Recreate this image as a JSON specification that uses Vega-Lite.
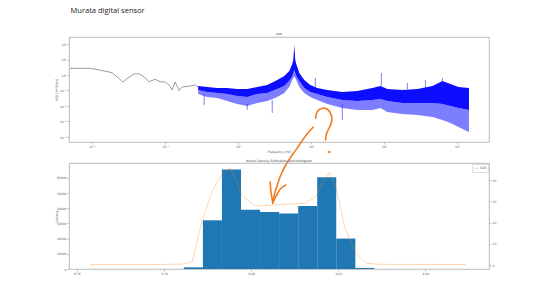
{
  "$schema": "https://vega.github.io/schema/vega-lite/v6.json",
  "background": "white",
  "padding": {"left": 53, "top": 6, "right": 5, "bottom": 5},
  "title": {"text": "Murata digital sensor", "anchor": "start", "font": "Open Sans", "fontSize": 7.5, "fontWeight": "normal", "color": "#222", "dx": 17, "offset": 17},
  "datasets": {
    "psdline": [
      {"f": 0.005, "psd": 2.706}, {"f": 0.00939, "psd": 2.706}, {"f": 0.01372, "psd": 1.951}, {"f": 0.0188, "psd": 1.407},
      {"f": 0.02662, "psd": 0.3535}, {"f": 0.03118, "psd": 0.6406}, {"f": 0.03768, "psd": 1.16}, {"f": 0.04413, "psd": 1.213},
      {"f": 0.05167, "psd": 0.743}, {"f": 0.06051, "psd": 0.3695}, {"f": 0.07312, "psd": 0.528}, {"f": 0.08565, "psd": 0.3695},
      {"f": 0.1003, "psd": 0.3535}, {"f": 0.1138, "psd": 0.2264}, {"f": 0.1252, "psd": 0.1077}, {"f": 0.1376, "psd": 0.3535},
      {"f": 0.1561, "psd": 0.1}, {"f": 0.1716, "psd": 0.1682}, {"f": 0.1948, "psd": 0.1811}, {"f": 0.221, "psd": 0.1951},
      {"f": 0.2588, "psd": 0.2264}, {"f": 0.2844, "psd": 0.1682}
    ],
    "band": [
      {"f": 0.2844, "hi": 0.195, "mid": 0.108, "lo": 0.0594},
      {"f": 0.378, "hi": 0.168, "mid": 0.08, "lo": 0.0381},
      {"f": 0.518, "hi": 0.145, "mid": 0.069, "lo": 0.0328},
      {"f": 0.711, "hi": 0.145, "mid": 0.0594, "lo": 0.021},
      {"f": 0.975, "hi": 0.125, "mid": 0.0442, "lo": 0.0135},
      {"f": 1.337, "hi": 0.125, "mid": 0.0381, "lo": 0.01},
      {"f": 1.834, "hi": 0.168, "mid": 0.0594, "lo": 0.0156},
      {"f": 2.515, "hi": 0.226, "mid": 0.069, "lo": 0.021},
      {"f": 3.449, "hi": 0.476, "mid": 0.125, "lo": 0.0381},
      {"f": 4.302, "hi": 0.862, "mid": 0.195, "lo": 0.069},
      {"f": 5.04, "hi": 1.81, "mid": 0.41, "lo": 0.168},
      {"f": 5.54, "hi": 5.13, "mid": 0.862, "lo": 0.476},
      {"f": 5.718, "hi": 9.29, "mid": 1.346, "lo": 0.641},
      {"f": 5.902, "hi": 86.1, "mid": 2.1, "lo": 0.862},
      {"f": 6.09, "hi": 9.29, "mid": 1.346, "lo": 0.641},
      {"f": 6.286, "hi": 5.13, "mid": 0.862, "lo": 0.476},
      {"f": 6.911, "hi": 1.346, "mid": 0.41, "lo": 0.168},
      {"f": 8.091, "hi": 0.476, "mid": 0.145, "lo": 0.069},
      {"f": 9.781, "hi": 0.226, "mid": 0.08, "lo": 0.0381},
      {"f": 12.2, "hi": 0.145, "mid": 0.0594, "lo": 0.0244},
      {"f": 16.73, "hi": 0.108, "mid": 0.0381, "lo": 0.0135},
      {"f": 26.88, "hi": 0.08, "mid": 0.0244, "lo": 0.00743},
      {"f": 43.17, "hi": 0.0928, "mid": 0.021, "lo": 0.00552},
      {"f": 69.32, "hi": 0.145, "mid": 0.0244, "lo": 0.00552},
      {"f": 89.26, "hi": 0.195, "mid": 0.0283, "lo": 0.00743},
      {"f": 111.3, "hi": 0.125, "mid": 0.021, "lo": 0.0041},
      {"f": 178.8, "hi": 0.108, "mid": 0.0156, "lo": 0.00305},
      {"f": 287.2, "hi": 0.125, "mid": 0.0156, "lo": 0.00263},
      {"f": 461.2, "hi": 0.195, "mid": 0.0156, "lo": 0.00195},
      {"f": 632.5, "hi": 0.41, "mid": 0.0135, "lo": 0.00125},
      {"f": 814.3, "hi": 0.263, "mid": 0.01, "lo": 0.0008},
      {"f": 1048.6, "hi": 0.168, "mid": 0.00743, "lo": 0.00044},
      {"f": 1461, "hi": 0.145, "mid": 0.00552, "lo": 0.00021}
    ],
    "spikes": [
      {"f": 0.3438, "top": 0.0594, "bottom": 0.0116},
      {"f": 1.337, "top": 0.0135, "bottom": 0.00552},
      {"f": 2.945, "top": 0.0244, "bottom": 0.00354},
      {"f": 26.88, "top": 0.0135, "bottom": 0.00125},
      {"f": 11.46, "top": 0.641, "bottom": 0.145},
      {"f": 92.1, "top": 1.346, "bottom": 0.195},
      {"f": 209.4, "top": 0.305, "bottom": 0.125},
      {"f": 369.8, "top": 0.476, "bottom": 0.125},
      {"f": 632.5, "top": 0.641, "bottom": 0.145}
    ],
    "annotation": [
      {"stroke": "shaft", "seq": 1, "f": 10.755, "psd": 4.418e-4},
      {"stroke": "shaft", "seq": 2, "f": 8.62, "psd": 1.346e-4},
      {"stroke": "shaft", "seq": 3, "f": 6.911, "psd": 3.047e-5},
      {"stroke": "shaft", "seq": 4, "f": 5.54, "psd": 6.897e-6},
      {"stroke": "shaft", "seq": 5, "f": 4.583, "psd": 1.811e-6},
      {"stroke": "shaft", "seq": 6, "f": 3.914, "psd": 4.102e-7},
      {"stroke": "shaft", "seq": 7, "f": 3.449, "psd": 8.0e-8},
      {"stroke": "shaft", "seq": 8, "f": 3.137, "psd": 1.811e-8},
      {"stroke": "shaft", "seq": 9, "f": 2.992, "psd": 5.52e-9},
      {"stroke": "left", "seq": 1, "f": 2.765, "psd": 1.25e-7},
      {"stroke": "left", "seq": 2, "f": 2.809, "psd": 3.81e-8},
      {"stroke": "left", "seq": 3, "f": 2.899, "psd": 1.346e-8},
      {"stroke": "left", "seq": 4, "f": 2.992, "psd": 5.52e-9},
      {"stroke": "right", "seq": 1, "f": 4.511, "psd": 8.0e-8},
      {"stroke": "right", "seq": 2, "f": 3.914, "psd": 5.13e-8},
      {"stroke": "right", "seq": 3, "f": 3.449, "psd": 2.1e-8},
      {"stroke": "right", "seq": 4, "f": 3.137, "psd": 8.62e-9},
      {"stroke": "right", "seq": 5, "f": 2.992, "psd": 5.52e-9},
      {"stroke": "question", "seq": 1, "f": 11.56, "psd": 1.609e-3},
      {"stroke": "question", "seq": 2, "f": 12.2, "psd": 4.288e-3},
      {"stroke": "question", "seq": 3, "f": 14.29, "psd": 7.108e-3},
      {"stroke": "question", "seq": 4, "f": 16.73, "psd": 6.125e-3},
      {"stroke": "question", "seq": 5, "f": 18.99, "psd": 2.627e-3},
      {"stroke": "question", "seq": 6, "f": 19.17, "psd": 9.707e-4},
      {"stroke": "question", "seq": 7, "f": 17.66, "psd": 3.641e-4},
      {"stroke": "question", "seq": 8, "f": 16.37, "psd": 1.733e-4},
      {"stroke": "question", "seq": 9, "f": 15.86, "psd": 6.4e-5}
    ],
    "dot": [{"f": 17.82, "psd": 1.077e-5}],
    "hist": [
      {"start": 9.78456, "end": 9.78893, "count": 1100},
      {"start": 9.78893, "end": 9.7933, "count": 32000},
      {"start": 9.7933, "end": 9.79768, "count": 65400},
      {"start": 9.79768, "end": 9.80205, "count": 39000},
      {"start": 9.80205, "end": 9.80642, "count": 37500},
      {"start": 9.80642, "end": 9.8108, "count": 36400},
      {"start": 9.8108, "end": 9.81517, "count": 41400},
      {"start": 9.81517, "end": 9.81954, "count": 60300},
      {"start": 9.81954, "end": 9.82392, "count": 20000},
      {"start": 9.82392, "end": 9.82829, "count": 700}
    ],
    "kde": [
      {"x": 9.76299, "density": 0.2}, {"x": 9.77726, "density": 0.2}, {"x": 9.78417, "density": 0.4},
      {"x": 9.78647, "density": 1.5}, {"x": 9.78877, "density": 21}, {"x": 9.79107, "density": 35},
      {"x": 9.79337, "density": 43}, {"x": 9.79521, "density": 45.8}, {"x": 9.79798, "density": 32.5},
      {"x": 9.80097, "density": 27.8}, {"x": 9.80488, "density": 28.3}, {"x": 9.80948, "density": 28.8},
      {"x": 9.81247, "density": 29.2}, {"x": 9.81478, "density": 32}, {"x": 9.81639, "density": 39},
      {"x": 9.818, "density": 43.5}, {"x": 9.81984, "density": 34}, {"x": 9.82145, "density": 18},
      {"x": 9.824, "density": 5.7}, {"x": 9.82628, "density": 0.9}, {"x": 9.82905, "density": 0.3},
      {"x": 9.8493, "density": 0.2}
    ]
  },
  "bounds": "flush",
  "spacing": 21,
  "resolve": {"scale": {"color": "independent"}, "legend": {"color": "independent"}},
  "vconcat": [
    {
      "width": 420,
      "height": 105,
      "title": {"text": "psd", "offset": 2},
      "encoding": {
        "x": {"field": "f", "type": "quantitative",
          "scale": {"type": "log", "domain": [0.004834, 2748], "nice": false},
          "axis": {"title": "Frequency [Hz]", "values": [0.01, 0.1, 1, 10, 100, 1000],
            "labelExpr": "['10⁻²','10⁻¹','10⁰','10¹','10²','10³'][round(log(datum.value)/LN10)+2]"}}
      },
      "layer": [
        {
          "data": {"name": "band"},
          "mark": {"type": "area", "color": "#2626ff", "opacity": 0.6},
          "encoding": {
            "y": {"field": "lo", "type": "quantitative",
              "scale": {"type": "log", "domain": [0.0000475, 283.1], "nice": false},
              "axis": {"title": "PSD [V**2/Hz]", "values": [0.0001, 0.001, 0.01, 0.1, 1, 10, 100],
                "labelExpr": "['10⁻⁴','10⁻³','10⁻²','10⁻¹','10⁰','10¹','10²'][round(log(datum.value)/LN10)+4]",
                "minExtent": 10, "maxExtent": 10}},
            "y2": {"field": "mid"}
          }
        },
        {
          "data": {"name": "band"},
          "mark": {"type": "area", "color": "#0000ff", "opacity": 0.95},
          "encoding": {
            "y": {"field": "mid", "type": "quantitative"},
            "y2": {"field": "hi"}
          }
        },
        {
          "data": {"name": "spikes"},
          "mark": {"type": "rule", "color": "#2b2bff", "strokeWidth": 0.6},
          "encoding": {
            "y": {"field": "top", "type": "quantitative"},
            "y2": {"field": "bottom"}
          }
        },
        {
          "data": {"name": "psdline"},
          "mark": {"type": "line", "color": "#6e6e80", "strokeWidth": 0.7},
          "encoding": {
            "y": {"field": "psd", "type": "quantitative"}
          }
        },
        {
          "data": {"name": "annotation"},
          "mark": {"type": "line", "color": "#f07c22", "strokeWidth": 1.6, "strokeCap": "round", "strokeJoin": "round", "interpolate": "catmull-rom", "clip": false},
          "encoding": {
            "y": {"field": "psd", "type": "quantitative"},
            "detail": {"field": "stroke", "type": "nominal"},
            "order": {"field": "seq", "type": "quantitative"}
          }
        },
        {
          "data": {"name": "dot"},
          "mark": {"type": "circle", "color": "#f07c22", "size": 7, "opacity": 1, "clip": false},
          "encoding": {
            "y": {"field": "psd", "type": "quantitative"}
          }
        }
      ]
    },
    {
      "width": 420,
      "height": 106,
      "title": {"text": "Kernel Density Estimation and Histogram", "offset": 1},
      "layer": [
        {
          "data": {"name": "hist"},
          "mark": {"type": "bar", "color": "#1f77b4", "opacity": 1},
          "encoding": {
            "x": {"field": "start", "type": "quantitative",
              "scale": {"domain": [9.7582, 9.8546], "nice": false, "zero": false},
              "axis": {"title": null, "values": [9.76, 9.78, 9.8, 9.82, 9.84], "format": ".2f"}},
            "x2": {"field": "end"},
            "y": {"field": "count", "type": "quantitative",
              "scale": {"domain": [0, 69650], "nice": false},
              "axis": {"title": "Density", "orient": "left", "values": [0, 10000, 20000, 30000, 40000, 50000, 60000], "format": "d",
                "minExtent": 10, "maxExtent": 10}},
            "y2": {"datum": 0}
          }
        },
        {
          "data": {"name": "kde"},
          "mark": {"type": "line", "strokeWidth": 0.6, "opacity": 0.55},
          "encoding": {
            "x": {"field": "x", "type": "quantitative"},
            "y": {"field": "density", "type": "quantitative",
              "scale": {"domain": [-1.9, 48.1], "nice": false, "zero": false},
              "axis": {"title": null, "orient": "right", "values": [0, 10, 20, 30, 40]}},
            "color": {"datum": "KDE", "type": "nominal", "scale": {"range": ["#ff7f0e"]},
              "legend": {"title": null, "orient": "top-right", "offset": 1, "symbolType": "stroke", "symbolSize": 25,
                "symbolStrokeWidth": 0.6, "labelFontSize": 3, "padding": 1.2, "strokeColor": "#ddd", "fillColor": "white",
                "labelOffset": 1, "rowPadding": 0}}
          }
        }
      ],
      "resolve": {"scale": {"y": "independent"}}
    }
  ],
  "config": {
    "font": "DejaVu Sans",
    "view": {"stroke": "#a8a8a8", "strokeWidth": 0.8},
    "title": {"fontSize": 3.2, "fontWeight": "normal", "color": "#444"},
    "axis": {"labelFontSize": 3, "titleFontSize": 3.2, "labelColor": "#666", "titleColor": "#555", "tickColor": "#999",
      "tickSize": 2, "tickWidth": 0.6, "domain": false, "grid": false, "labelPadding": 1, "titlePadding": 1, "titleFontWeight": "normal"},
    "legend": {"labelColor": "#666"}
  }
}
